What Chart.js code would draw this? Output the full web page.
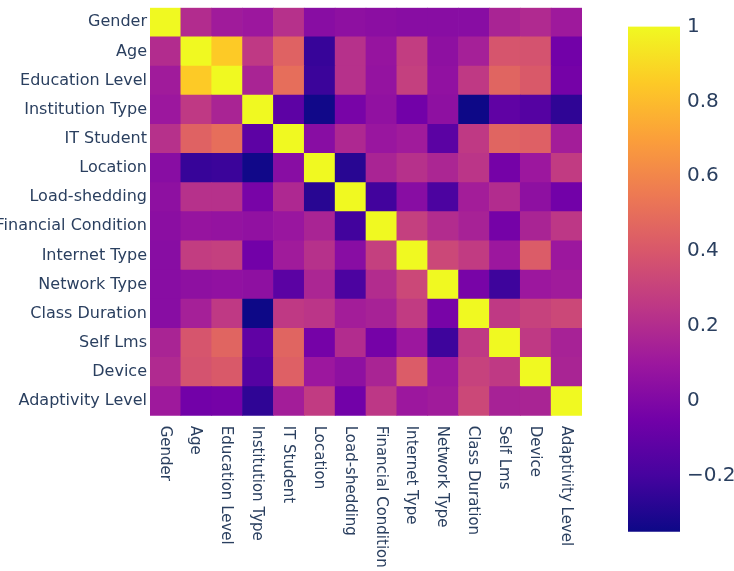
<!DOCTYPE html>
<html>
<head>
<meta charset="utf-8">
<script src="https://cdn.jsdelivr.net/npm/chart.js@4.4.0/dist/chart.umd.min.js"></script>
<style>
  html, body { margin: 0; padding: 0; background: #ffffff; }
  #main { position: absolute; left: 0; top: 0; width: 600px; height: 571px; }
  #bar { position: absolute; left: 600px; top: 0; width: 134px; height: 571px; }
</style>
</head>
<body>
<div id="main"><canvas id="heat"></canvas></div>
<div id="bar"><canvas id="cbar"></canvas></div>
<script>
// ---- data ----
const features = ['Gender','Age','Education Level','Institution Type','IT Student','Location','Load-shedding','Financial Condition','Internet Type','Network Type','Class Duration','Self Lms','Device','Adaptivity Level'];
const correlation = [
  [1, 0.20, 0.12, 0.10, 0.22, 0.03, 0.05, 0.04, 0.03, 0.03, 0.03, 0.16, 0.19, 0.11],
  [0.20, 1, 0.85, 0.26, 0.45, -0.24, 0.22, 0.08, 0.28, 0.05, 0.14, 0.39, 0.38, -0.05],
  [0.12, 0.85, 1, 0.16, 0.50, -0.23, 0.22, 0.07, 0.29, 0.06, 0.26, 0.46, 0.41, -0.04],
  [0.10, 0.26, 0.16, 1, -0.12, -0.34, -0.03, 0.06, -0.05, 0.05, -0.35, -0.11, -0.15, -0.26],
  [0.22, 0.45, 0.50, -0.12, 1, 0.03, 0.18, 0.09, 0.12, -0.13, 0.26, 0.46, 0.44, 0.13],
  [0.03, -0.24, -0.23, -0.34, 0.03, 1, -0.28, 0.16, 0.22, 0.17, 0.24, -0.04, 0.10, 0.27],
  [0.05, 0.22, 0.22, -0.03, 0.18, -0.28, 1, -0.21, 0.03, -0.18, 0.13, 0.20, 0.05, -0.05],
  [0.04, 0.08, 0.07, 0.06, 0.09, 0.16, -0.21, 1, 0.29, 0.20, 0.15, -0.04, 0.16, 0.25],
  [0.03, 0.28, 0.29, -0.05, 0.12, 0.22, 0.03, 0.29, 1, 0.33, 0.27, 0.10, 0.42, 0.10],
  [0.03, 0.05, 0.06, 0.05, -0.13, 0.17, -0.18, 0.20, 0.33, 1, -0.03, -0.22, 0.10, 0.12],
  [0.03, 0.14, 0.26, -0.35, 0.26, 0.24, 0.13, 0.15, 0.27, -0.03, 1, 0.26, 0.30, 0.33],
  [0.16, 0.39, 0.46, -0.11, 0.46, -0.04, 0.20, -0.04, 0.10, -0.22, 0.26, 1, 0.26, 0.15],
  [0.19, 0.38, 0.41, -0.15, 0.44, 0.10, 0.05, 0.16, 0.42, 0.10, 0.30, 0.26, 1, 0.16],
  [0.11, -0.05, -0.04, -0.26, 0.13, 0.27, -0.05, 0.25, 0.10, 0.12, 0.33, 0.15, 0.16, 1]
];
const colorbarTicks = [-0.2, 0, 0.2, 0.4, 0.6, 0.8, 1];
const plasma = ['#0d0887','#46039f','#7201a8','#9c179e','#bd3786','#d8576b','#ed7953','#fb9f3a','#fdca26','#f0f921'];

// ---- colour scale ----
const zmin = Math.min(...correlation.flat());
const zmax = Math.max(...correlation.flat());
function hexToRgb(h) { return [parseInt(h.slice(1,3),16), parseInt(h.slice(3,5),16), parseInt(h.slice(5,7),16)]; }
const plasmaRgb = plasma.map(hexToRgb);
function colorFor(v) {
  let t = (v - zmin) / (zmax - zmin);
  t = Math.max(0, Math.min(1, t));
  const pos = t * (plasmaRgb.length - 1);
  const i = Math.min(Math.floor(pos), plasmaRgb.length - 2);
  const f = pos - i;
  const a = plasmaRgb[i], b = plasmaRgb[i + 1];
  const c = a.map((x, k) => Math.round(x + (b[k] - x) * f));
  return 'rgb(' + c.join(',') + ')';
}

const textColor = '#2a3f5f';
const fontFamily = '"DejaVu Sans", Verdana, sans-serif';

// ---- heatmap: stacked unit bars, one dataset per row (bottom row first) ----
const n = features.length;
const datasets = [];
for (let r = n - 1; r >= 0; r--) {
  const colors = correlation[r].map(colorFor);
  datasets.push({
    label: features[r],
    data: features.map(() => 1),
    backgroundColor: colors,
    borderColor: colors,
    borderWidth: 0,
    barPercentage: 1,
    categoryPercentage: 1
  });
}

const xLabelPlugin = {
  id: 'xLabels',
  afterDraw(chart) {
    const { ctx, chartArea, scales } = chart;
    ctx.save();
    ctx.fillStyle = textColor;
    ctx.font = '15px ' + fontFamily;
    ctx.textAlign = 'left';
    ctx.textBaseline = 'middle';
    features.forEach((lab, i) => {
      const x = scales.x.getPixelForValue(i);
      ctx.save();
      ctx.translate(x - 1, chartArea.bottom + 10);
      ctx.rotate(Math.PI / 2);
      ctx.fillText(lab, 0, 0);
      ctx.restore();
    });
    ctx.restore();
  }
};

new Chart(document.getElementById('heat'), {
  type: 'bar',
  data: { labels: features, datasets },
  options: {
    responsive: true,
    maintainAspectRatio: false,
    animation: false,
    layout: { padding: { left: 0, top: 7.7, right: 18, bottom: 155.3 } },
    plugins: { legend: { display: false }, tooltip: { enabled: false } },
    scales: {
      x: { stacked: true, display: false, offset: true, grid: { display: false } },
      y: {
        stacked: true, min: 0, max: n,
        grid: { display: false, drawTicks: false }, border: { display: false },
        afterBuildTicks: (scale) => { scale.ticks = features.map((_, i) => ({ value: n - 0.5 - i })); },
        afterFit: (scale) => { scale.width = 150; scale.paddingTop = 0; scale.paddingBottom = 0; },
        ticks: {
          padding: 3, color: textColor, autoSkip: false,
          font: { family: fontFamily, size: 16 },
          callback: (value) => features[Math.round(n - 0.5 - value)]
        }
      }
    }
  },
  plugins: [xLabelPlugin]
});

// ---- colour bar ----
new Chart(document.getElementById('cbar'), {
  type: 'bar',
  data: {
    labels: [''],
    datasets: [{
      data: [[zmin, zmax]],
      barPercentage: 1,
      categoryPercentage: 1,
      borderWidth: 0,
      backgroundColor: (context) => {
        const chart = context.chart;
        const area = chart.chartArea;
        if (!area || !isFinite(area.top) || !isFinite(area.bottom)) return plasma[0];
        const g = chart.ctx.createLinearGradient(0, area.bottom, 0, area.top);
        plasma.forEach((c, i) => g.addColorStop(i / (plasma.length - 1), c));
        return g;
      }
    }]
  },
  options: {
    responsive: true,
    maintainAspectRatio: false,
    animation: false,
    layout: { padding: { left: 28, top: 26.5, bottom: 39.3, right: 0 } },
    plugins: { legend: { display: false }, tooltip: { enabled: false } },
    scales: {
      x: { display: false },
      y: {
        position: 'right', min: zmin, max: zmax,
        grid: { display: false, drawTicks: false }, border: { display: false },
        afterBuildTicks: (scale) => { scale.ticks = colorbarTicks.map(v => ({ value: v })); },
        afterFit: (scale) => { scale.width = 54; scale.paddingTop = 0; scale.paddingBottom = 0; },
        ticks: {
          padding: 7, color: textColor,
          font: { family: fontFamily, size: 20 },
          callback: (v) => v < 0 ? '\u2212' + Math.abs(v) : String(v)
        }
      }
    }
  }
});
</script>
</body>
</html>
